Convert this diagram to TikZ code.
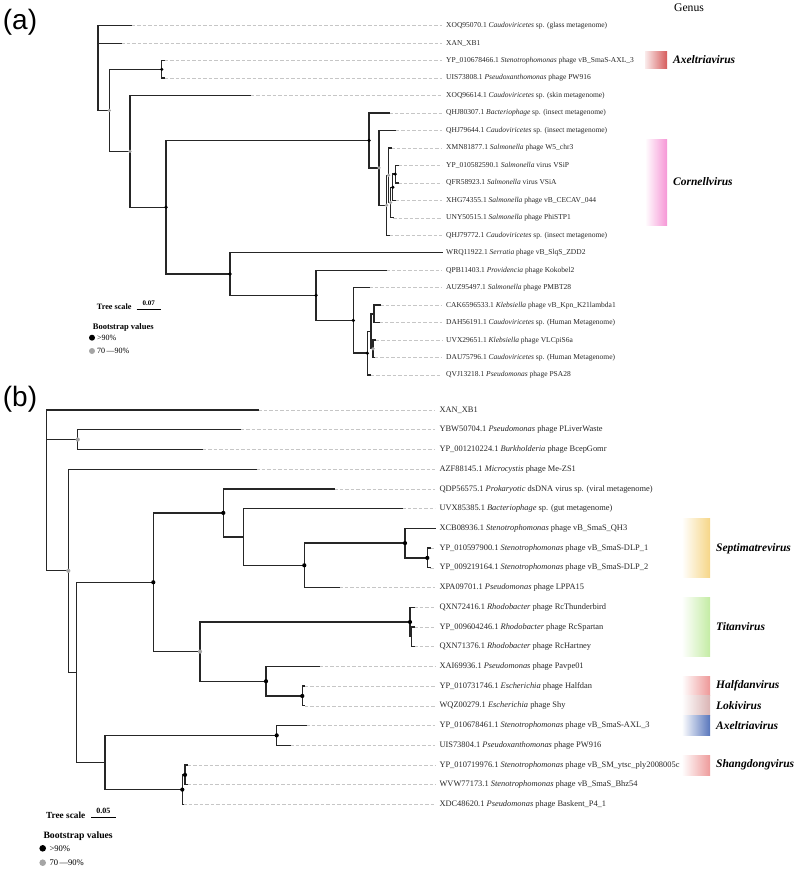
\documentclass[tikz,border=0pt]{standalone}
\usepackage{fontspec}
\setmainfont{Liberation Serif}
\newfontfamily\panelfont{Liberation Sans}
\definecolor{axred}{RGB}{214,92,92}
\definecolor{cornpink}{RGB}{246,150,214}
\definecolor{septyel}{RGB}{246,214,135}
\definecolor{titgreen}{RGB}{196,236,164}
\definecolor{halfred}{RGB}{238,152,152}
\definecolor{lokirose}{RGB}{218,180,180}
\definecolor{axblue}{RGB}{88,118,188}
\definecolor{shangred}{RGB}{238,155,155}
\definecolor{bsgray}{RGB}{165,165,165}

\begin{document}
\begin{tikzpicture}[x=1pt, y=-1pt,
  br/.style={line width=1.35pt, draw=black!85, line cap=rect},
  tipdash/.style={draw=gray!45, line width=0.6pt, dash pattern=on 3.5pt off 2pt},
  leafa/.style={anchor=west, inner sep=0pt, text height=5.4pt, text depth=1.6pt,
                font=\fontsize{7.5}{9}\selectfont, text=black!85},
  leafb/.style={leafa, text height=6pt, text depth=1.8pt,
                font=\fontsize{8.4}{10}\selectfont},
  genus/.style={anchor=west, inner sep=0pt, font=\fontsize{11.5}{13}\selectfont\bfseries\itshape},
  panel/.style={inner sep=0pt, font=\panelfont\fontsize{28}{30}\selectfont},
  scaletxt/.style={inner sep=0pt, font=\bfseries\fontsize{8.2}{10}\selectfont},
  legtxt/.style={anchor=west, inner sep=0pt, font=\fontsize{8}{10}\selectfont}]
  \useasboundingbox (0,0) rectangle (797,872);

  % ---------------- panel (a) ----------------
  \node[panel] (pa) at (20,22) {(a)};
  \node[inner sep=0pt, font=\fontsize{11.7}{13}\selectfont] (genushead) at (689,7.5) {Genus};
  % genus bands
  \shade[left color=axred!12, right color=axred] (645,51.7) rectangle (667,69);
  \shade[left color=white, right color=cornpink] (645,139.3) rectangle (667,225.7);
  \node[genus] (gaxa) at (673,60) {Axeltriavirus};
  \node[genus] (gcorn) at (673,181.5) {Cornellvirus};
  % internal nodes
  \coordinate (aRoot) at (98,67);
  \coordinate (aA) at (109.3,110.4);
  \coordinate (aB) at (161.7,69.35);
  \coordinate (aC) at (130,151.4);
  \coordinate (aD) at (166,207.2);
  \coordinate (aE) at (369,140.45);
  \coordinate (aF) at (379,167.9);
  \coordinate (aG) at (386.5,205.3);
  \coordinate (aH) at (388.5,175.3);
  \coordinate (aK) at (390.5,202.55);
  \coordinate (aI) at (392.8,187.3);
  \coordinate (aJ) at (395.2,174.15);
  \coordinate (aL) at (230,274);
  \coordinate (aM) at (316,295.3);
  \coordinate (aN) at (353.3,320.4);
  \coordinate (aO) at (367.3,353.15);
  \coordinate (aP) at (371,331.3);
  \coordinate (aQ) at (374,313.85);
  \coordinate (aS) at (373,348.8);
  % tips
  \coordinate (a1) at (131.7,25.7);
  \coordinate (a2) at (121,43.2);
  \coordinate (a3) at (164.5,60.6);
  \coordinate (a4) at (164.5,78.1);
  \coordinate (a5) at (250.7,95.6);
  \coordinate (a6) at (389,113.0);
  \coordinate (a7) at (395.5,130.5);
  \coordinate (a8) at (391,148.0);
  \coordinate (a9) at (398,165.4);
  \coordinate (a10) at (398,182.9);
  \coordinate (a11) at (395.5,200.4);
  \coordinate (a12) at (393,217.8);
  \coordinate (a13) at (389.5,235.3);
  \coordinate (a14) at (442,252.7);
  \coordinate (a15) at (386,270.2);
  \coordinate (a16) at (369,287.7);
  \coordinate (a17) at (380,305.1);
  \coordinate (a18) at (379,322.6);
  \coordinate (a19) at (375.5,340.1);
  \coordinate (a20) at (374.5,357.5);
  \coordinate (a21) at (370.7,375.0);
  % leaf labels
  \node[leafa] (la1) at (446,25.7) {XOQ95070.1 \textit{Caudoviricetes} sp. (glass metagenome)};
  \node[leafa] (la2) at (446,43.2) {XAN\_XB1};
  \node[leafa] (la3) at (446,60.6) {YP\_010678466.1 \textit{Stenotrophomonas} phage vB\_SmaS-AXL\_3};
  \node[leafa] (la4) at (446,78.1) {UIS73808.1 \textit{Pseudoxanthomonas} phage PW916};
  \node[leafa] (la5) at (446,95.6) {XOQ96614.1 \textit{Caudoviricetes} sp. (skin metagenome)};
  \node[leafa] (la6) at (446,113.0) {QHJ80307.1 \textit{Bacteriophage} sp. (insect metagenome)};
  \node[leafa] (la7) at (446,130.5) {QHJ79644.1 \textit{Caudoviricetes} sp. (insect metagenome)};
  \node[leafa] (la8) at (446,148.0) {XMN81877.1 \textit{Salmonella} phage W5\_chr3};
  \node[leafa] (la9) at (446,165.4) {YP\_010582590.1 \textit{Salmonella} virus VSiP};
  \node[leafa] (la10) at (446,182.9) {QFR58923.1 \textit{Salmonella} virus VSiA};
  \node[leafa] (la11) at (446,200.4) {XHG74355.1 \textit{Salmonella} phage vB\_CECAV\_044};
  \node[leafa] (la12) at (446,217.8) {UNY50515.1 \textit{Salmonella} phage PhiSTP1};
  \node[leafa] (la13) at (446,235.3) {QHJ79772.1 \textit{Caudoviricetes} sp. (insect metagenome)};
  \node[leafa] (la14) at (446,252.7) {WRQ11922.1 \textit{Serratia} phage vB\_SlqS\_ZDD2};
  \node[leafa] (la15) at (446,270.2) {QPB11403.1 \textit{Providencia} phage Kokobel2};
  \node[leafa] (la16) at (446,287.7) {AUZ95497.1 \textit{Salmonella} phage PMBT28};
  \node[leafa] (la17) at (446,305.1) {CAK6596533.1 \textit{Klebsiella} phage vB\_Kpn\_K21lambda1};
  \node[leafa] (la18) at (446,322.6) {DAH56191.1 \textit{Caudoviricetes} sp. (Human Metagenome)};
  \node[leafa] (la19) at (446,340.1) {UVX29651.1 \textit{Klebsiella} phage VLCpiS6a};
  \node[leafa] (la20) at (446,357.5) {DAU75796.1 \textit{Caudoviricetes} sp. (Human Metagenome)};
  \node[leafa] (la21) at (446,375.0) {QVJ13218.1 \textit{Pseudomonas} phage PSA28};
  \foreach \i in {1,...,21}
    \draw[tipdash] (a\i) -- ([xshift=-4pt]la\i.west);
  % branches
  \draw[br] (aRoot) |- (a1) (aRoot) |- (a2) (aRoot) |- (aA);
  \draw[br] (aA) |- (aB) (aA) |- (aC);
  \draw[br] (aB) |- (a3) (aB) |- (a4);
  \draw[br] (aC) |- (a5) (aC) |- (aD);
  \draw[br] (aD) |- (aE) (aD) |- (aL);
  \draw[br] (aE) |- (a6) (aE) |- (aF);
  \draw[br] (aF) |- (a7) (aF) |- (aG);
  \draw[br] (aG) |- (aH) (aG) |- (a13);
  \draw[br] (aH) |- (a8) (aH) |- (aK);
  \draw[br] (aK) |- (aI) (aK) |- (a12);
  \draw[br] (aI) |- (aJ) (aI) |- (a11);
  \draw[br] (aJ) |- (a9) (aJ) |- (a10);
  \draw[br] (aL) |- (a14) (aL) |- (aM);
  \draw[br] (aM) |- (a15) (aM) |- (aN);
  \draw[br] (aN) |- (a16) (aN) |- (aO);
  \draw[br] (aO) |- (aP) (aO) |- (a21);
  \draw[br] (aP) |- (aQ) (aP) |- (aS);
  \draw[br] (aQ) |- (a17) (aQ) |- (a18);
  \draw[br] (aS) |- (a19) (aS) |- (a20);
  % bootstrap dots
  \foreach \n in {aB,aD,aE,aI,aJ,aL,aM,aN,aO}
    \fill[black] (\n) circle (1.8pt);
  \foreach \n in {aA,aC,aF,aG,aH,aK,aS}
    \fill[bsgray] (\n) circle (1.8pt);
  % scale and legend
  \node[scaletxt] (tsa) at (114.2,306.7) {Tree scale};
  \draw[line width=1.3pt] (136.7,309.3) -- (161,309.3);
  \node[scaletxt, font=\bfseries\fontsize{7}{8}\selectfont] (sva) at (148.8,303.2) {0.07};
  \node[legtxt, font=\bfseries\fontsize{8.5}{10}\selectfont] (bsa) at (92.7,327) {Bootstrap values};
  \fill[black] (92,337.7) circle (3pt);
  \node[legtxt] (hia) at (97,337.7) {>90\%};
  \fill[bsgray] (92,351) circle (3pt);
  \node[legtxt] (loa) at (97,351) {70\,—90\%};

  % ---------------- panel (b) ----------------
  \node[panel] (pb) at (20,399) {(b)};
  % genus bands
  \shade[left color=white, right color=septyel] (681.7,518.3) rectangle (710,577.3);
  \shade[left color=white, right color=titgreen] (681.7,597.3) rectangle (710,656.7);
  \shade[left color=white, right color=halfred] (681.7,676) rectangle (710,695.7);
  \shade[left color=white, right color=lokirose] (681.7,695.7) rectangle (710,715);
  \shade[left color=white, right color=axblue] (681.7,715) rectangle (710,735);
  \shade[left color=white, right color=shangred] (681.7,755) rectangle (710,775);
  \node[genus] (gsept) at (716,548.3) {Septimatrevirus};
  \node[genus] (gtitan) at (716,627) {Titanvirus};
  \node[genus] (ghalf) at (716,686) {Halfdanvirus};
  \node[genus] (gloki) at (716,706) {Lokivirus};
  \node[genus] (gaxb) at (716,726) {Axeltriavirus};
  \node[genus] (gshang) at (716,765) {Shangdongvirus};
  % internal nodes
  \coordinate (bRoot) at (46.7,490);
  \coordinate (bS) at (77.7,439.55);
  \coordinate (bT) at (68.3,570.8);
  \coordinate (bU) at (76.7,672.4);
  \coordinate (bV) at (153.3,582.25);
  \coordinate (bX) at (223.3,512.9);
  \coordinate (bZ) at (243.3,536.95);
  \coordinate (bAA) at (304.3,565.3);
  \coordinate (bBB) at (405,543.1);
  \coordinate (bCC) at (427.3,557.9);
  \coordinate (bY) at (200,651.6);
  \coordinate (bDD) at (410,622.0);
  \coordinate (bEE) at (411.3,636.75);
  \coordinate (bFF) at (266,681.2);
  \coordinate (bGG) at (302.3,695.95);
  \coordinate (bW) at (105,762.5);
  \coordinate (bHH) at (276.7,735.35);
  \coordinate (bII) at (182.3,789.6);
  \coordinate (bJJ) at (185,774.85);
  % tips
  \coordinate (b1) at (258.3,410.0);
  \coordinate (b2) at (240.7,429.7);
  \coordinate (b3) at (202.7,449.4);
  \coordinate (b4) at (256,469.2);
  \coordinate (b5) at (334,488.9);
  \coordinate (b6) at (402.3,508.6);
  \coordinate (b7) at (435,528.3);
  \coordinate (b8) at (430,548.0);
  \coordinate (b9) at (430,567.8);
  \coordinate (b10) at (339.3,587.5);
  \coordinate (b11) at (414,607.2);
  \coordinate (b12) at (414,626.9);
  \coordinate (b13) at (414,646.6);
  \coordinate (b14) at (319,666.4);
  \coordinate (b15) at (304.5,686.1);
  \coordinate (b16) at (304.5,705.8);
  \coordinate (b17) at (306,725.5);
  \coordinate (b18) at (290,745.2);
  \coordinate (b19) at (187.5,765.0);
  \coordinate (b20) at (187.5,784.7);
  \coordinate (b21) at (183,804.4);
  % leaf labels
  \node[leafb] (lb1) at (439.3,410.0) {XAN\_XB1};
  \node[leafb] (lb2) at (439.3,429.7) {YBW50704.1 \textit{Pseudomonas} phage PLiverWaste};
  \node[leafb] (lb3) at (439.3,449.4) {YP\_001210224.1 \textit{Burkholderia} phage BcepGomr};
  \node[leafb] (lb4) at (439.3,469.2) {AZF88145.1 \textit{Microcystis} phage Me-ZS1};
  \node[leafb] (lb5) at (439.3,488.9) {QDP56575.1 \textit{Prokaryotic} dsDNA virus sp. (viral metagenome)};
  \node[leafb] (lb6) at (439.3,508.6) {UVX85385.1 \textit{Bacteriophage} sp. (gut metagenome)};
  \node[leafb] (lb7) at (439.3,528.3) {XCB08936.1 \textit{Stenotrophomonas} phage vB\_SmaS\_QH3};
  \node[leafb] (lb8) at (439.3,548.0) {YP\_010597900.1 \textit{Stenotrophomonas} phage vB\_SmaS-DLP\_1};
  \node[leafb] (lb9) at (439.3,567.8) {YP\_009219164.1 \textit{Stenotrophomonas} phage vB\_SmaS-DLP\_2};
  \node[leafb] (lb10) at (439.3,587.5) {XPA09701.1 \textit{Pseudomonas} phage LPPA15};
  \node[leafb] (lb11) at (439.3,607.2) {QXN72416.1 \textit{Rhodobacter} phage RcThunderbird};
  \node[leafb] (lb12) at (439.3,626.9) {YP\_009604246.1 \textit{Rhodobacter} phage RcSpartan};
  \node[leafb] (lb13) at (439.3,646.6) {QXN71376.1 \textit{Rhodobacter} phage RcHartney};
  \node[leafb] (lb14) at (439.3,666.4) {XAI69936.1 \textit{Pseudomonas} phage Pavpe01};
  \node[leafb] (lb15) at (439.3,686.1) {YP\_010731746.1 \textit{Escherichia} phage Halfdan};
  \node[leafb] (lb16) at (439.3,705.8) {WQZ00279.1 \textit{Escherichia} phage Shy};
  \node[leafb] (lb17) at (439.3,725.5) {YP\_010678461.1 \textit{Stenotrophomonas} phage vB\_SmaS-AXL\_3};
  \node[leafb] (lb18) at (439.3,745.2) {UIS73804.1 \textit{Pseudoxanthomonas} phage PW916};
  \node[leafb] (lb19) at (439.3,765.0) {YP\_010719976.1 \textit{Stenotrophomonas} phage vB\_SM\_ytsc\_ply2008005c};
  \node[leafb] (lb20) at (439.3,784.7) {WVW77173.1 \textit{Stenotrophomonas} phage vB\_SmaS\_Bhz54};
  \node[leafb] (lb21) at (439.3,804.4) {XDC48620.1 \textit{Pseudomonas} phage Baskent\_P4\_1};
  \foreach \i in {1,...,21}
    \draw[tipdash] (b\i) -- ([xshift=-4pt]lb\i.west);
  % branches
  \draw[br] (bRoot) |- (b1) (bRoot) |- (bS) (bRoot) |- (bT);
  \draw[br] (bS) |- (b2) (bS) |- (b3);
  \draw[br] (bT) |- (b4) (bT) |- (bU);
  \draw[br] (bU) |- (bV) (bU) |- (bW);
  \draw[br] (bV) |- (bX) (bV) |- (bY);
  \draw[br] (bX) |- (b5) (bX) |- (bZ);
  \draw[br] (bZ) |- (b6) (bZ) |- (bAA);
  \draw[br] (bAA) |- (bBB) (bAA) |- (b10);
  \draw[br] (bBB) |- (b7) (bBB) |- (bCC);
  \draw[br] (bCC) |- (b8) (bCC) |- (b9);
  \draw[br] (bY) |- (bDD) (bY) |- (bFF);
  \draw[br] (bDD) |- (b11) (bDD) |- (bEE);
  \draw[br] (bEE) |- (b12) (bEE) |- (b13);
  \draw[br] (bFF) |- (b14) (bFF) |- (bGG);
  \draw[br] (bGG) |- (b15) (bGG) |- (b16);
  \draw[br] (bW) |- (bHH) (bW) |- (bII);
  \draw[br] (bHH) |- (b17) (bHH) |- (b18);
  \draw[br] (bII) |- (bJJ) (bII) |- (b21);
  \draw[br] (bJJ) |- (b19) (bJJ) |- (b20);
  % bootstrap dots
  \foreach \n in {bV,bX,bAA,bBB,bCC,bDD,bFF,bGG,bHH,bII,bJJ}
    \fill[black] (\n) circle (2.1pt);
  \foreach \n in {bS,bT,bY}
    \fill[bsgray] (\n) circle (2.1pt);
  % scale and legend
  \node[scaletxt, font=\bfseries\fontsize{9.3}{11}\selectfont] (tsb) at (65.7,815) {Tree scale};
  \draw[line width=1.4pt] (91,817.7) -- (115.7,817.7);
  \node[scaletxt, font=\bfseries\fontsize{8}{9}\selectfont] (svb) at (103.3,810.8) {0.05};
  \node[legtxt, font=\bfseries\fontsize{9.7}{11}\selectfont] (bsb) at (43.3,836) {Bootstrap values};
  \fill[black] (42.7,848.3) circle (3.3pt);
  \node[legtxt, font=\fontsize{8.6}{10}\selectfont] (hib) at (49.3,848.3) {>90\%};
  \fill[bsgray] (42.7,862.7) circle (3.3pt);
  \node[legtxt, font=\fontsize{8.6}{10}\selectfont] (lob) at (49.3,862.7) {70\,—90\%};
\end{tikzpicture}
\end{document}
